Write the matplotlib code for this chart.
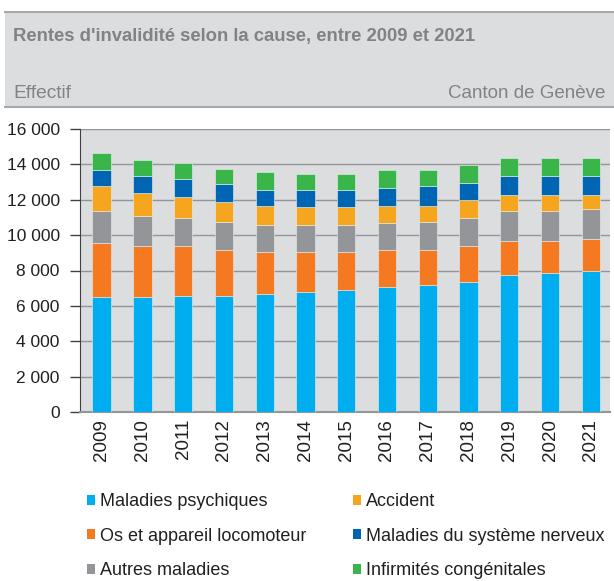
import matplotlib.pyplot as plt
import numpy as np
from matplotlib.patches import Rectangle, Patch
from matplotlib.lines import Line2D
from matplotlib.ticker import FuncFormatter

plt.rcParams['font.family'] = ['Liberation Sans', 'DejaVu Sans']

years = ['2009', '2010', '2011', '2012', '2013', '2014', '2015',
         '2016', '2017', '2018', '2019', '2020', '2021']

psychiques = [6500, 6480, 6580, 6580, 6690, 6780, 6880, 7070, 7160, 7370, 7760, 7860, 7970]
locomoteur = [3050, 2900, 2800, 2600, 2370, 2280, 2180, 2110, 2020, 2010, 1910, 1810, 1790]
autres = [1810, 1680, 1590, 1580, 1510, 1510, 1490, 1490, 1580, 1590, 1690, 1690, 1720]
accident = [1420, 1320, 1180, 1110, 1090, 1000, 1020, 990, 900, 1000, 910, 910, 790]
nerveux = [880, 960, 1020, 1000, 890, 980, 980, 1000, 1100, 980, 1070, 1070, 1070]
congenitales = [1000, 920, 890, 890, 1020, 920, 900, 1000, 900, 1010, 1020, 1020, 1020]

series = [
    ('Maladies psychiques', psychiques, '#00aeef'),
    ('Os et appareil locomoteur', locomoteur, '#f47920'),
    ('Autres maladies', autres, '#939598'),
    ('Accident', accident, '#f6a51f'),
    ('Maladies du système nerveux', nerveux, '#0066b3'),
    ('Infirmités congénitales', congenitales, '#39b54a'),
]

bg = '#dcdddf'
W, H = 614, 581
fig = plt.figure(figsize=(W / 100, H / 100), dpi=100)

# bandeau du titre
fig.patches.append(Rectangle((5 / W, 1 - 107 / H), 1 - 5 / W, 95 / H,
                             transform=fig.transFigure, facecolor=bg, edgecolor='none'))
for yy in (12, 107):
    fig.lines.append(Line2D([5 / W, 1], [1 - yy / H] * 2, transform=fig.transFigure,
                            color='#a7a9ac', lw=1.5))
fig.text(13 / W, 1 - 36 / H, "Rentes d'invalidité selon la cause, entre 2009 et 2021",
         fontsize=13.3, fontweight='bold', color='#808285', va='center', ha='left')
fig.text(13 / W, 1 - 93 / H, 'Effectif', fontsize=13.8, color='#808285', va='center', ha='left')
fig.text(605 / W, 1 - 93 / H, 'Canton de Genève', fontsize=13.5, color='#808285',
         va='center', ha='right')

ax = fig.add_axes([80 / W, 1 - 412 / H, 530 / W, 283 / H])
ax.set_facecolor(bg)

x = np.arange(len(years))
bottom = np.zeros(len(years))
handles = []
for label, vals, col in series:
    ax.bar(x, vals, 0.45, bottom=bottom, color=col, edgecolor='#e8f0f0', linewidth=0.4, zorder=3)
    bottom += np.array(vals)
    handles.append(Patch(facecolor=col, label=label))

ax.set_xlim(-0.53, 12.47)
ax.set_ylim(0, 16000)
ax.set_yticks(range(0, 16001, 2000))
ax.yaxis.set_major_formatter(FuncFormatter(lambda v, p: f'{int(v):,}'.replace(',', ' ')))
ax.grid(axis='y', color='#939598', lw=1, zorder=1)
ax.set_xticks(x)
ax.set_xticklabels(years, rotation=90)
ax.tick_params(axis='x', length=0, pad=5, labelsize=13.5, colors='#231f20')
ax.tick_params(axis='y', length=7, width=1, color='#414042', pad=7.5, labelsize=12.5,
               labelcolor='#231f20')
for s in ('top', 'right'):
    ax.spines[s].set_visible(False)
ax.spines['left'].set_color('#414042')
ax.spines['bottom'].set_color('#939598')
ax.spines['bottom'].set_linewidth(1.5)

leg_kw = dict(frameon=False, fontsize=13, handlelength=0.45, handleheight=0.45,
              handletextpad=0.25, labelspacing=0.97, loc='upper left', borderaxespad=0,
              labelcolor='#231f20')
fig.legend(handles=handles[:3], bbox_to_anchor=(80 / W, 1 - 486 / H), **leg_kw)
fig.legend(handles=handles[3:], bbox_to_anchor=(346 / W, 1 - 486 / H), **leg_kw)

fig.savefig('out.png', dpi=100)
